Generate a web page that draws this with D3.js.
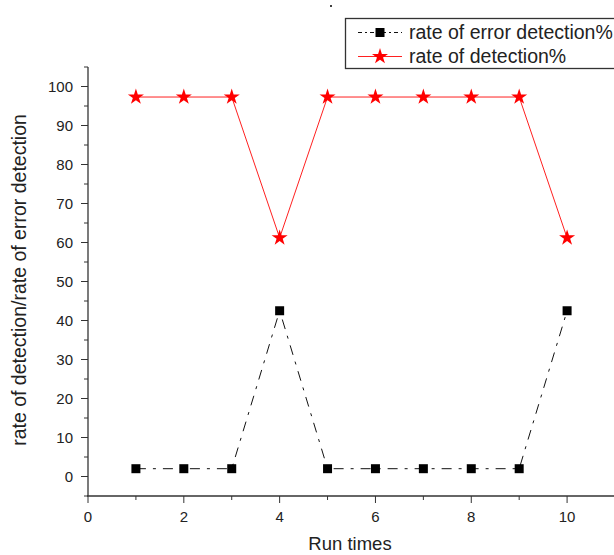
<!DOCTYPE html>
<html><head><meta charset="utf-8">
<script src="https://cdn.jsdelivr.net/npm/d3@7"></script>
<style>body{margin:0;background:#fff}svg{display:block;font-family:"Liberation Sans",Arial,sans-serif}</style>
</head><body>
<script>
const runs = [1,2,3,4,5,6,7,8,9,10];
const detection = [97.3,97.3,97.3,61.2,97.3,97.3,97.3,97.3,97.3,61.2];
const errorDetection = [2,2,2,42.5,2,2,2,2,2,42.5];
const xTicks = [0,2,4,6,8,10];
const yTicks = [0,10,20,30,40,50,60,70,80,90,100];
const seriesNames = ["rate of error detection%","rate of detection%"];

const W=614,H=555;
const svg=d3.select("body").append("svg").attr("width",W).attr("height",H);
const x=d3.scaleLinear().domain([0,11]).range([88,615]);
const y=d3.scaleLinear().domain([-5,105]).range([496,67]);
const axisColor="#333";

// y axis
const gy=svg.append("g").attr("transform","translate(88,0)");
gy.append("line").attr("x1",0).attr("x2",0).attr("y1",y(105)).attr("y2",y(-5)).attr("stroke",axisColor).attr("stroke-width",1.3);
const yMinor=d3.range(-5,106,5).filter(v=>v%10!==0);
gy.selectAll(".ymi").data(yMinor).join("line").attr("x1",-4).attr("x2",0).attr("y1",d=>y(d)).attr("y2",d=>y(d)).attr("stroke",axisColor);
gy.selectAll(".yma").data(yTicks).join("line").attr("x1",-7).attr("x2",0).attr("y1",d=>y(d)).attr("y2",d=>y(d)).attr("stroke",axisColor);
gy.selectAll(".ylab").data(yTicks).join("text").attr("x",-15).attr("y",d=>y(d)+5.5).attr("text-anchor","end")
  .attr("font-size",15).attr("fill","#222").text(d=>d);

// x axis
const xAxisY=y(-5);
const gx=svg.append("g");
gx.append("line").attr("x1",87).attr("x2",W).attr("y1",xAxisY).attr("y2",xAxisY).attr("stroke",axisColor).attr("stroke-width",1.3);
const xMinor=[1,3,5,7,9,11];
gx.selectAll(".xmi").data(xMinor).join("line").attr("x1",d=>x(d)).attr("x2",d=>x(d)).attr("y1",xAxisY).attr("y2",xAxisY+4).attr("stroke",axisColor);
gx.selectAll(".xma").data(xTicks).join("line").attr("x1",d=>x(d)).attr("x2",d=>x(d)).attr("y1",xAxisY).attr("y2",xAxisY+7).attr("stroke",axisColor);
gx.selectAll(".xlab").data(xTicks).join("text").attr("x",d=>x(d)).attr("y",xAxisY+26).attr("text-anchor","middle")
  .attr("font-size",15).attr("fill","#222").text(d=>d);

// axis titles
svg.append("text").attr("x",350).attr("y",550).attr("text-anchor","middle").attr("font-size",18.5).attr("fill","#222").text("Run times");
svg.append("text").attr("transform","translate(26,280) rotate(-90)").attr("text-anchor","middle").attr("font-size",19.5).attr("fill","#222")
  .text("rate of detection/rate of error detection");

// lines
const line=d3.line().x(d=>x(d[0])).y(d=>y(d[1]));
const errData=runs.map((r,i)=>[r,errorDetection[i]]);
const detData=runs.map((r,i)=>[r,detection[i]]);
svg.append("path").attr("d",line(errData)).attr("fill","none").attr("stroke","#111").attr("stroke-width",1).attr("stroke-dasharray","10,7,3,7");
svg.append("path").attr("d",line(detData)).attr("fill","none").attr("stroke","#ff2020").attr("stroke-width",1);

const star=d3.symbol().type(d3.symbolStar).size(80);
const sq=d3.symbol().type(d3.symbolSquare).size(81);
svg.selectAll(".sq").data(errData).join("path").attr("d",sq).attr("transform",d=>`translate(${x(d[0])},${y(d[1])})`).attr("fill","#000");
svg.selectAll(".st").data(detData).join("path").attr("d",star).attr("transform",d=>`translate(${x(d[0])},${y(d[1])})`).attr("fill","#ff0000");

// legend
svg.append("rect").attr("x",345.5).attr("y",18.5).attr("width",280).attr("height",50).attr("fill","#fff").attr("stroke","#333").attr("stroke-width",1.3);
const legY=[32.5,56.5];
svg.append("line").attr("x1",358).attr("x2",402).attr("y1",legY[0]).attr("y2",legY[0]).attr("stroke","#111").attr("stroke-dasharray","4,3,2,3");
svg.append("path").attr("d",sq).attr("transform",`translate(380,${legY[0]})`).attr("fill","#000");
svg.append("line").attr("x1",358).attr("x2",402).attr("y1",legY[1]).attr("y2",legY[1]).attr("stroke","#ff2020");
svg.append("path").attr("d",star).attr("transform",`translate(380,${legY[1]})`).attr("fill","#ff0000");
svg.selectAll(".lt").data(seriesNames).join("text").attr("x",409).attr("y",(d,i)=>[39,63][i]).attr("font-size",19.5).attr("fill","#222").text(d=>d);

// stray dot
svg.append("circle").attr("cx",331).attr("cy",6).attr("r",1).attr("fill","#000");
</script>
</body></html>
